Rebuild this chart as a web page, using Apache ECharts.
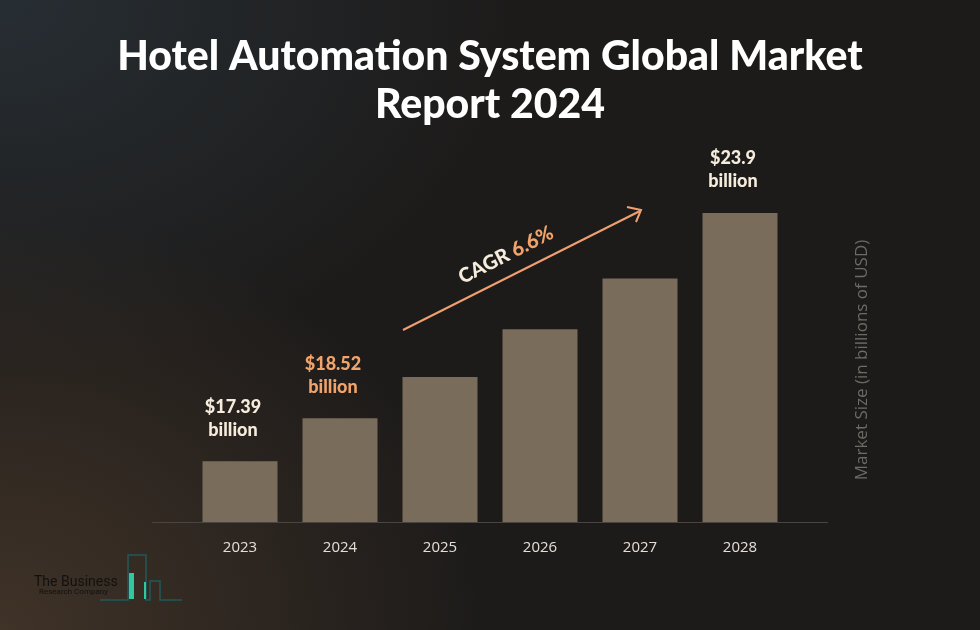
<!DOCTYPE html>
<html>
<head>
<meta charset="utf-8">
<script src="https://cdn.jsdelivr.net/npm/echarts@6/dist/echarts.min.js"></script>
<style>
html,body{margin:0;padding:0;}
#chart{width:980px;height:630px;
background:
 radial-gradient(ellipse 480px 420px at 0px 630px, rgba(70,55,42,0.85), rgba(70,55,42,0) 100%),
 radial-gradient(ellipse 520px 380px at 0px 0px, rgba(40,48,54,0.9), rgba(40,48,54,0) 100%),
 #1d1b1a;}
</style>
</head>
<body>
<div id="chart"></div>
<script>
const categories = ['2023','2024','2025','2026','2027','2028'];
const values = [17.39, 18.52, 19.6, 20.85, 22.18, 23.9];
const valueLabels = ['$17.39\nbillion', '$18.52\nbillion', '', '', '', '$23.9\nbillion'];
const highlightIndex = 1;
const titleLines = ['Hotel Automation System Global Market', 'Report 2024'];
const cagrText = 'CAGR';
const cagrValue = '6.6%';
const yAxisName = 'Market Size (in billions of USD)';

const chart = echarts.init(document.getElementById('chart'));
const titleFont = 'Lato, "DejaVu Sans", sans-serif';
chart.setOption({
  animation: false,
  backgroundColor: 'transparent',
  title: {
    text: titleLines.join('\n'),
    left: 'center', top: 28,
    textStyle: {color: '#ffffff', fontSize: 41, fontWeight: 900, fontFamily: titleFont, lineHeight: 48}
  },
  grid: {left: 190, right: 190, top: 171, bottom: 108},
  xAxis: {
    type: 'category', data: categories,
    axisLine: {show: false}, axisTick: {show: false},
    axisLabel: {color: '#e6ded6', fontSize: 15, margin: 18, fontFamily: '"Open Sans", sans-serif'}
  },
  yAxis: {
    type: 'value', min: 15.8, max: 25, show: false
  },
  series: [{
    type: 'bar', barWidth: 75,
    data: values.map((v, i) => ({
      value: v,
      label: {
        show: valueLabels[i] !== '',
        formatter: valueLabels[i],
        color: i === highlightIndex ? '#f0a46c' : '#f5ecdc'
      }
    })),
    itemStyle: {color: '#7a6c5b'},
    label: {position: 'top', distance: 20, fontSize: 18, fontWeight: 900, lineHeight: 23,
            fontFamily: titleFont, offset: [-7, 0]}
  }],
  graphic: [
    {type: 'line', shape: {x1: 152, y1: 522.5, x2: 828, y2: 522.5}, style: {stroke: '#4a4540', lineWidth: 1}},
    {type: 'line', shape: {x1: 403, y1: 330, x2: 640, y2: 211}, style: {stroke: '#f0a070', lineWidth: 2}},
    {type: 'polyline', shape: {points: [[627, 207], [641, 210], [636, 222]]}, style: {stroke: '#f0a070', lineWidth: 2, fill: null}},
    {type: 'text', x: 506, y: 255, rotation: 27 * Math.PI / 180, origin: [0, 0],
      style: {text: '{a|' + cagrText + ' }{b|' + cagrValue + '}', align: 'center', verticalAlign: 'middle',
        rich: {a: {fill: '#f5ecdc', fontSize: 20, fontWeight: 900, fontFamily: titleFont},
               b: {fill: '#f0a46c', fontSize: 20, fontWeight: 900, fontFamily: titleFont}}}},
    {type: 'text', x: 862, y: 360, rotation: Math.PI / 2,
      style: {text: yAxisName, align: 'center', verticalAlign: 'middle', fill: '#6e6a66', fontSize: 17,
        fontFamily: '"Open Sans", sans-serif'}},
    {type: 'polyline', shape: {points: [[100, 600], [128, 600], [128, 555], [146, 555], [146, 600], [150, 600], [150, 581], [160, 581], [160, 600], [182, 600]]},
      style: {stroke: '#1f5a5a', lineWidth: 1.5, fill: null}},
    {type: 'rect', shape: {x: 129, y: 573, width: 5, height: 26}, style: {fill: '#2fc8a0'}},
    {type: 'rect', shape: {x: 144, y: 582, width: 2, height: 17}, style: {fill: '#2fc8a0'}},
    {type: 'text', x: 34, y: 582, style: {text: 'The Business', fill: '#111111', fontSize: 14, fontFamily: 'Roboto, sans-serif', verticalAlign: 'middle'}},
    {type: 'text', x: 39, y: 592, style: {text: 'Research Company', fill: '#111111', fontSize: 8, fontFamily: 'Roboto, sans-serif', verticalAlign: 'middle'}}
  ]
});
</script>
</body>
</html>
